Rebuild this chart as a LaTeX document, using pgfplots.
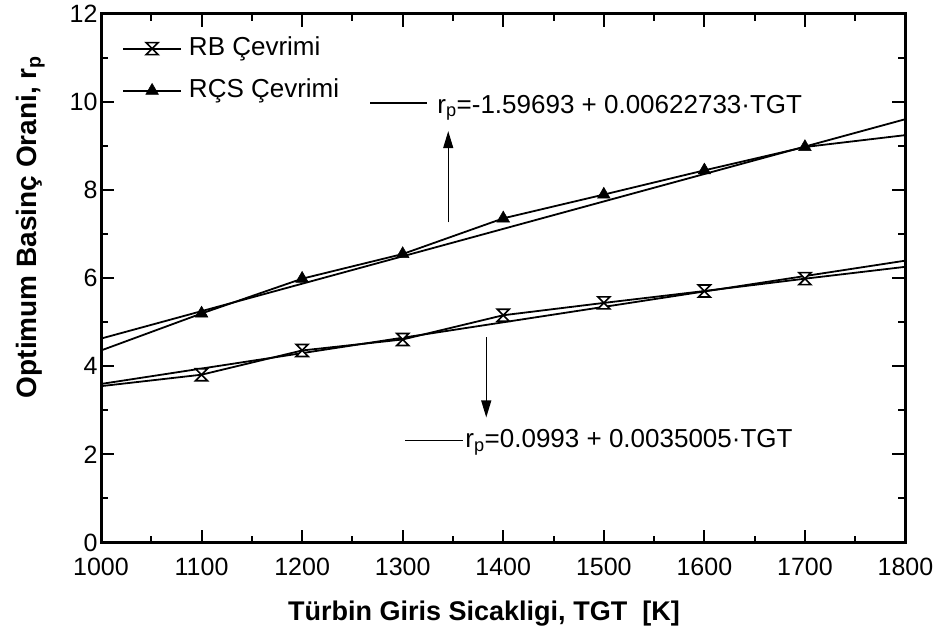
\documentclass[border=0pt]{standalone}
\usepackage{pgfplots}
\pgfplotsset{compat=1.18}
\usepackage{fontspec}
\setmainfont{Liberation Sans}
\usetikzlibrary{arrows.meta}

% open hourglass marker: two triangles meeting at their tips
\pgfdeclareplotmark{hourglass}{%
  \pgfpathmoveto{\pgfqpoint{-\pgfplotmarksize}{\pgfplotmarksize}}%
  \pgfpathlineto{\pgfqpoint{\pgfplotmarksize}{\pgfplotmarksize}}%
  \pgfpathlineto{\pgfqpoint{-\pgfplotmarksize}{-\pgfplotmarksize}}%
  \pgfpathlineto{\pgfqpoint{\pgfplotmarksize}{-\pgfplotmarksize}}%
  \pgfpathclose
  \pgfusepathqfillstroke}

\begin{document}
\begin{tikzpicture}
\useasboundingbox (0,0) rectangle (940pt,641pt);
\begin{axis}[
  at={(101pt,98.5pt)}, anchor=south west,
  scale only axis, width=804.5pt, height=528.5pt,
  xmin=1000, xmax=1800, ymin=0, ymax=12,
  xtick={1000,1100,...,1800}, ytick={0,2,...,12},
  minor x tick num=1, minor y tick num=1,
  tick align=inside, xtick pos=both, ytick pos=both,
  major tick length=13pt, minor tick length=7pt,
  tick style={black, line width=2pt},
  axis line style={line width=3pt},
  /pgf/number format/assume math mode=true,
  /pgf/number format/1000 sep={},
  ticklabel style={font=\fontsize{25}{30}\selectfont},
  xticklabel style={yshift=-12pt},
  yticklabel style={xshift=0pt},
  xlabel={Türbin Giris Sicakligi, TGT\ \ [K]},
  ylabel={Optimum Basinç Orani, r\textsubscript{p}},
  xlabel style={font=\bfseries\fontsize{27}{32}\selectfont,
    at={(axis description cs:0.476,-0.1485)}, anchor=base},
  ylabel style={font=\bfseries\fontsize{28}{33}\selectfont,
    at={(axis description cs:-0.0796,0.597)}, anchor=base},
  legend style={at={(axis description cs:0,1)}, anchor=north west,
    draw=none, fill=none, inner sep=0pt, xshift=21pt, yshift=-22pt,
    font=\fontsize{26}{31}\selectfont,
    nodes={inner sep=0pt, text height=19pt, text depth=6pt},
    row sep=17pt, column sep=7pt, cells={anchor=west}},
  legend image code/.code={%
    \draw[#1, mark indices={2}]
      plot coordinates {(0pt,0pt) (29pt,0pt) (58pt,0pt)};},
]

% RB cycle
\addplot[black, line width=1.8pt, mark=hourglass, mark size=6pt,
  mark indices={2,3,4,5,6,7,8},
  mark options={fill=white, line width=1.6pt}]
  coordinates {(1000,3.55) (1100,3.81) (1200,4.36) (1300,4.61) (1400,5.16)
               (1500,5.44) (1600,5.71) (1700,5.99) (1800,6.26)};
\addlegendentry{RB Çevrimi}

% RCS cycle
\addplot[black, line width=1.8pt, mark=triangle*, mark size=7.3pt,
  mark indices={2,3,4,5,6,7,8},
  mark options={fill=black, line width=0.5pt}]
  coordinates {(1000,4.36) (1100,5.20) (1200,5.99) (1300,6.55) (1400,7.36)
               (1500,7.90) (1600,8.45) (1700,8.98) (1800,9.25)};
\addlegendentry{RÇS Çevrimi}

% linear fits
\addplot[black, line width=1.8pt, forget plot]
  coordinates {(1000,3.5998) (1800,6.4002)};
\addplot[black, line width=1.8pt, forget plot]
  coordinates {(1000,4.6304) (1800,9.6123)};

% fit equations
\draw[line width=1.5pt] (axis cs:1267.7,9.98) -- (axis cs:1324.4,9.98);
\node[anchor=base west, inner sep=0pt, font=\fontsize{26}{31}\selectfont]
  at (axis cs:1334.3,9.75) {r\textsubscript{p}=-1.59693 + 0.00622733·TGT};
\draw[line width=1.2pt, -{Triangle[length=17pt,width=10pt]}]
  (axis cs:1345.3,7.27) -- (axis cs:1345.3,9.34);

\draw[line width=1.5pt] (axis cs:1302.5,2.32) -- (axis cs:1360.2,2.32);
\node[anchor=base west, inner sep=0pt, font=\fontsize{26}{31}\selectfont]
  at (axis cs:1362.2,2.146) {r\textsubscript{p}=0.0993 + 0.0035005·TGT};
\draw[line width=1.2pt, -{Triangle[length=17pt,width=10pt]}]
  (axis cs:1383.1,4.66) -- (axis cs:1383.1,2.84);
\end{axis}
\end{tikzpicture}
\end{document}
